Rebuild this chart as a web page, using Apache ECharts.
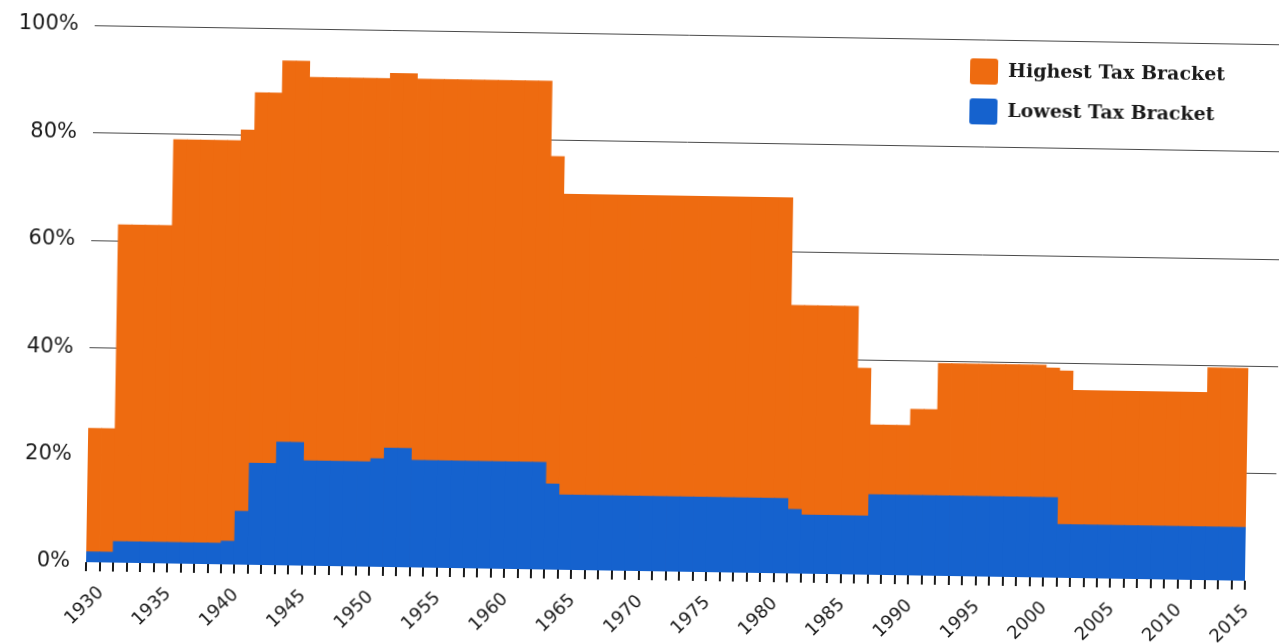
<!DOCTYPE html>
<html>
<head>
<meta charset="utf-8">
<script src="https://cdn.jsdelivr.net/npm/echarts@6/dist/echarts.min.js"></script>
<style>
  html, body { margin: 0; padding: 0; background: #fff; overflow: hidden; }
  #chart {
    width: 1279px; height: 643px;
    transform: rotate(0.92deg);
    transform-origin: 639.5px 321.5px;
  }
</style>
</head>
<body>
<div id="chart"></div>
<script>
// Tax years on the category axis
const years = [
  '1930','1931','1932','1933','1934','1935','1936','1937','1938','1939',
  '1940','1941','1942','1943','1944','1945','1946','1947','1948','1949',
  '1950','1951','1952','1953','1954','1955','1956','1957','1958','1959',
  '1960','1961','1962','1963','1964','1965','1966','1967','1968','1969',
  '1970','1971','1972','1973','1974','1975','1976','1977','1978','1979',
  '1980','1981','1982','1983','1984','1985','1986','1987','1988','1989',
  '1990','1991','1992','1993','1994','1995','1996','1997','1998','1999',
  '2000','2001','2002','2003','2004','2005','2006','2007','2008','2009',
  '2010','2011','2012','2013','2014','2015'
];

// Top marginal income tax rate, percent
const highestRate = [
  25, 25, 63, 63, 63, 63, 79, 79, 79, 79,
  79, 81, 88, 88, 94, 94, 91, 91, 91, 91,
  91, 91, 92, 92, 91, 91, 91, 91, 91, 91,
  91, 91, 91, 91, 77, 70, 70, 70, 70, 70,
  70, 70, 70, 70, 70, 70, 70, 70, 70, 70,
  70, 70, 50, 50, 50, 50, 50, 38.5, 28, 28,
  28, 31, 31, 39.6, 39.6, 39.6, 39.6, 39.6, 39.6, 39.6,
  39.6, 39.1, 38.6, 35, 35, 35, 35, 35, 35, 35,
  35, 35, 35, 39.6, 39.6, 39.6
];

// Bottom marginal income tax rate, percent
const lowestRate = [
  2, 2, 4, 4, 4, 4, 4, 4, 4, 4,
  4.4, 10, 19, 19, 23, 23, 19.6, 19.6, 19.6, 19.6,
  19.6, 20.2, 22.2, 22.2, 20, 20, 20, 20, 20, 20,
  20, 20, 20, 20, 16, 14, 14, 14, 14, 14,
  14, 14, 14, 14, 14, 14, 14, 14, 14, 14,
  14, 14, 12, 11, 11, 11, 11, 11, 15, 15,
  15, 15, 15, 15, 15, 15, 15, 15, 15, 15,
  15, 15, 10, 10, 10, 10, 10, 10, 10, 10,
  10, 10, 10, 10, 10, 10
];

const percentTicks = [0, 20, 40, 60, 80, 100];

const ORANGE = '#EE6B10';
const BLUE = '#1562CE';
const INK = '#1a1a1a';

const chart = echarts.init(document.getElementById('chart'), null, { renderer: 'canvas' });

chart.setOption({
  animation: false,
  backgroundColor: '#ffffff',
  legend: {
    orient: 'vertical',
    left: 961,
    top: 48,
    itemWidth: 28,
    itemHeight: 26,
    itemGap: 14,
    icon: 'path://M3,0 L25,0 Q28,0 28,3 L28,23 Q28,26 25,26 L3,26 Q0,26 0,23 L0,3 Q0,0 3,0 Z',
    textStyle: {
      fontFamily: 'DejaVu Serif',
      fontWeight: 'bold',
      fontSize: 19,
      color: INK,
      padding: [0, 0, 0, 5]
    },
    data: ['Highest Tax Bracket', 'Lowest Tax Bracket']
  },
  grid: [
    // bars
    { left: 90, right: 30, top: 34, height: 537 },
    // percent rules, running on past the last bar
    { left: 90, right: -40, top: 34, height: 537 }
  ],
  xAxis: [
    {
      gridIndex: 0,
      type: 'category',
      data: years,
      boundaryGap: true,
      offset: 3,
      axisLine: { show: false },
      axisTick: {
        show: true,
        interval: 0,
        length: 9,
        lineStyle: { color: INK, width: 2 }
      },
      axisLabel: {
        interval: 4,
        rotate: 45,
        margin: 33,
        padding: [0, -12, 0, 0],
        fontFamily: 'DejaVu Sans',
        fontSize: 18,
        color: INK
      },
      splitLine: { show: false }
    },
    { gridIndex: 1, type: 'value', min: 0, max: 1, show: false }
  ],
  yAxis: [
    { gridIndex: 0, type: 'value', min: 0, max: 100, show: false, splitLine: { show: false } },
    {
      gridIndex: 1,
      type: 'value',
      min: percentTicks[0],
      max: percentTicks[percentTicks.length - 1],
      interval: 20,
      axisLine: { show: false },
      axisTick: { show: false },
      axisLabel: {
        formatter: '{value}%',
        margin: 16,
        fontFamily: 'DejaVu Sans',
        fontSize: 21,
        color: INK
      },
      splitLine: {
        show: true,
        lineStyle: {
          color: ['rgba(0,0,0,0)', '#4a4a4a', '#4a4a4a', '#4a4a4a', '#4a4a4a', '#4a4a4a'],
          width: 1
        }
      }
    }
  ],
  series: [
    {
      name: 'Highest Tax Bracket',
      type: 'bar',
      xAxisIndex: 0,
      yAxisIndex: 0,
      data: highestRate,
      barWidth: '106%',
      barGap: '-100%',
      itemStyle: { color: ORANGE }
    },
    {
      name: 'Lowest Tax Bracket',
      type: 'bar',
      xAxisIndex: 0,
      yAxisIndex: 0,
      data: lowestRate,
      barWidth: '106%',
      barGap: '-100%',
      itemStyle: { color: BLUE }
    }
  ]
});
</script>
</body>
</html>
